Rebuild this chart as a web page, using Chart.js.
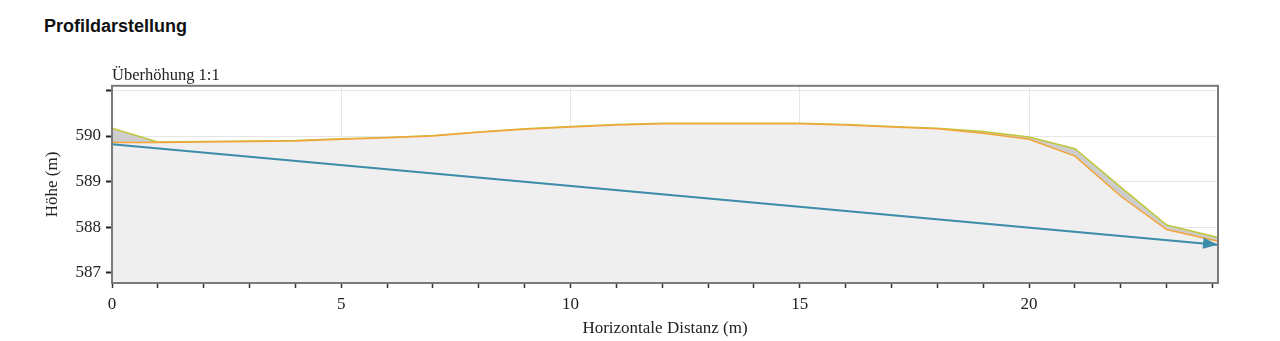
<!DOCTYPE html>
<html>
<head>
<meta charset="utf-8">
<title>Profildarstellung</title>
<script src="https://cdn.jsdelivr.net/npm/chart.js@4/dist/chart.umd.min.js"></script>
<style>
    html, body { margin: 0; padding: 0; background: #fff; }
    #wrap { position: relative; width: 1280px; height: 341px; }
    #heading {
        position: absolute; left: 44px; top: 15px;
        font: bold 18px/22px "Liberation Sans", Arial, sans-serif;
        color: #111;
    }
    #profileChart { position: absolute; left: 0; top: 0; }
</style>
</head>
<body>
<div id="wrap">
    <div id="heading">Profildarstellung</div>
    <canvas id="profileChart" width="1280" height="341"></canvas>
</div>
<script>
// Profile data (distance in m, height in m)
const distances = [0, 1, 2, 3, 4, 5, 6, 7, 8, 9, 10, 11, 12, 13, 14, 15, 16, 17, 18, 19, 20, 21, 22, 23, 24.1];
const surfaceHeights = [590.17, 589.87, 589.88, 589.89, 589.90, 589.94, 589.97, 590.01, 590.09, 590.16, 590.21, 590.25, 590.28, 590.28, 590.28, 590.28, 590.25, 590.21, 590.17, 590.10, 589.98, 589.72, 588.88, 588.05, 587.78];
const terrainHeights = [589.86, 589.86, 589.87, 589.88, 589.89, 589.93, 589.96, 590.00, 590.08, 590.15, 590.20, 590.24, 590.27, 590.27, 590.27, 590.27, 590.24, 590.20, 590.16, 590.06, 589.93, 589.56, 588.68, 587.95, 587.70];
const lineDistances = [0, 24.1];
const lineHeights = [589.82, 587.62];

const xMajorTicks = [0, 5, 10, 15, 20];
const yTickLabels = [587, 588, 589, 590];

const serif = '"Liberation Serif", "Times New Roman", serif';
const textColor = '#222';

function toPoints(xs, ys) {
    return xs.map((x, i) => ({ x: x, y: ys[i] }));
}

// Frame around plot area + arrow head at end of the line
const framePlugin = {
    id: 'frame',
    afterDatasetsDraw(chart) {
        const ctx = chart.ctx;
        const a = chart.chartArea;

        // arrow head
        const meta = chart.getDatasetMeta(2);
        const pts = meta.data;
        const p1 = pts[pts.length - 2];
        const p2 = pts[pts.length - 1];
        const ang = Math.atan2(p2.y - p1.y, p2.x - p1.x);
        ctx.save();
        ctx.translate(p2.x + 1, p2.y);
        ctx.rotate(ang);
        ctx.beginPath();
        ctx.moveTo(0, 0);
        ctx.lineTo(-15, -5.5);
        ctx.lineTo(-15, 5.5);
        ctx.closePath();
        ctx.fillStyle = '#3a8ca8';
        ctx.fill();
        ctx.restore();

        ctx.save();
        ctx.strokeStyle = '#7a7a7a';
        ctx.lineWidth = 2;
        ctx.strokeRect(a.left, a.top, a.right - a.left, a.bottom - a.top);
        ctx.restore();
    }
};

const ctx = document.getElementById('profileChart').getContext('2d');
const chart = new Chart(ctx, {
    type: 'line',
    data: {
        datasets: [
            {
                label: 'Gelände',
                data: toPoints(distances, terrainHeights),
                borderColor: '#f2a43a',
                borderWidth: 1.5,
                backgroundColor: '#efefef',
                fill: 'start',
                pointRadius: 0,
                tension: 0,
                order: 2
            },
            {
                label: 'Oberfläche',
                data: toPoints(distances, surfaceHeights),
                borderColor: '#bfc83a',
                borderWidth: 1.5,
                backgroundColor: '#cdcdcd',
                fill: '-1',
                pointRadius: 0,
                tension: 0,
                order: 3
            },
            {
                label: 'Leitung',
                data: toPoints(lineDistances, lineHeights),
                borderColor: '#3a8ca8',
                borderWidth: 2,
                fill: false,
                pointRadius: 0,
                order: 1
            }
        ]
    },
    options: {
        responsive: false,
        animation: false,
        layout: { padding: { top: 64, right: 62, left: 0, bottom: 0 } },
        plugins: {
            legend: { display: false },
            tooltip: { enabled: false },
            title: {
                display: true,
                text: 'Überhöhung 1:1',
                align: 'start',
                fullSize: false,
                color: textColor,
                font: { family: serif, size: 16.5, weight: 'normal' },
                padding: { top: 2, bottom: 0 }
            }
        },
        scales: {
            x: {
                type: 'linear',
                min: 0,
                max: 24.12,
                afterFit(scale) { scale.height = 58; },
                ticks: {
                    stepSize: 1,
                    includeBounds: false,
                    autoSkip: false,
                    maxRotation: 0,
                    color: textColor,
                    font: { family: serif, size: 17 },
                    padding: 6,
                    callback: v => xMajorTicks.includes(v) ? String(v) : ''
                },
                grid: {
                    color: c => (c.tick && xMajorTicks.includes(c.tick.value) && c.tick.value !== 0) ? '#e6e6e6' : 'rgba(0,0,0,0)',
                    tickColor: '#333',
                    tickLength: 5,
                    tickWidth: 1.5
                },
                border: { display: false },
                title: {
                    display: true,
                    text: 'Horizontale Distanz (m)',
                    color: textColor,
                    font: { family: serif, size: 17 },
                    padding: { top: 0, bottom: 2 }
                }
            },
            y: {
                type: 'linear',
                min: 586.78,
                max: 591.1,
                afterFit(scale) { scale.width = 112; },
                ticks: {
                    stepSize: 1,
                    includeBounds: false,
                    color: textColor,
                    font: { family: serif, size: 17 },
                    padding: 5,
                    callback: v => yTickLabels.includes(v) ? String(v) : ''
                },
                grid: {
                    color: '#e6e6e6',
                    tickColor: '#222',
                    tickLength: 6,
                    tickWidth: 2
                },
                border: { display: false },
                title: {
                    display: true,
                    text: 'Höhe (m)',
                    color: textColor,
                    font: { family: serif, size: 17 },
                    padding: { top: 42, bottom: 0 }
                }
            }
        }
    },
    plugins: [framePlugin]
});
</script>
</body>
</html>
